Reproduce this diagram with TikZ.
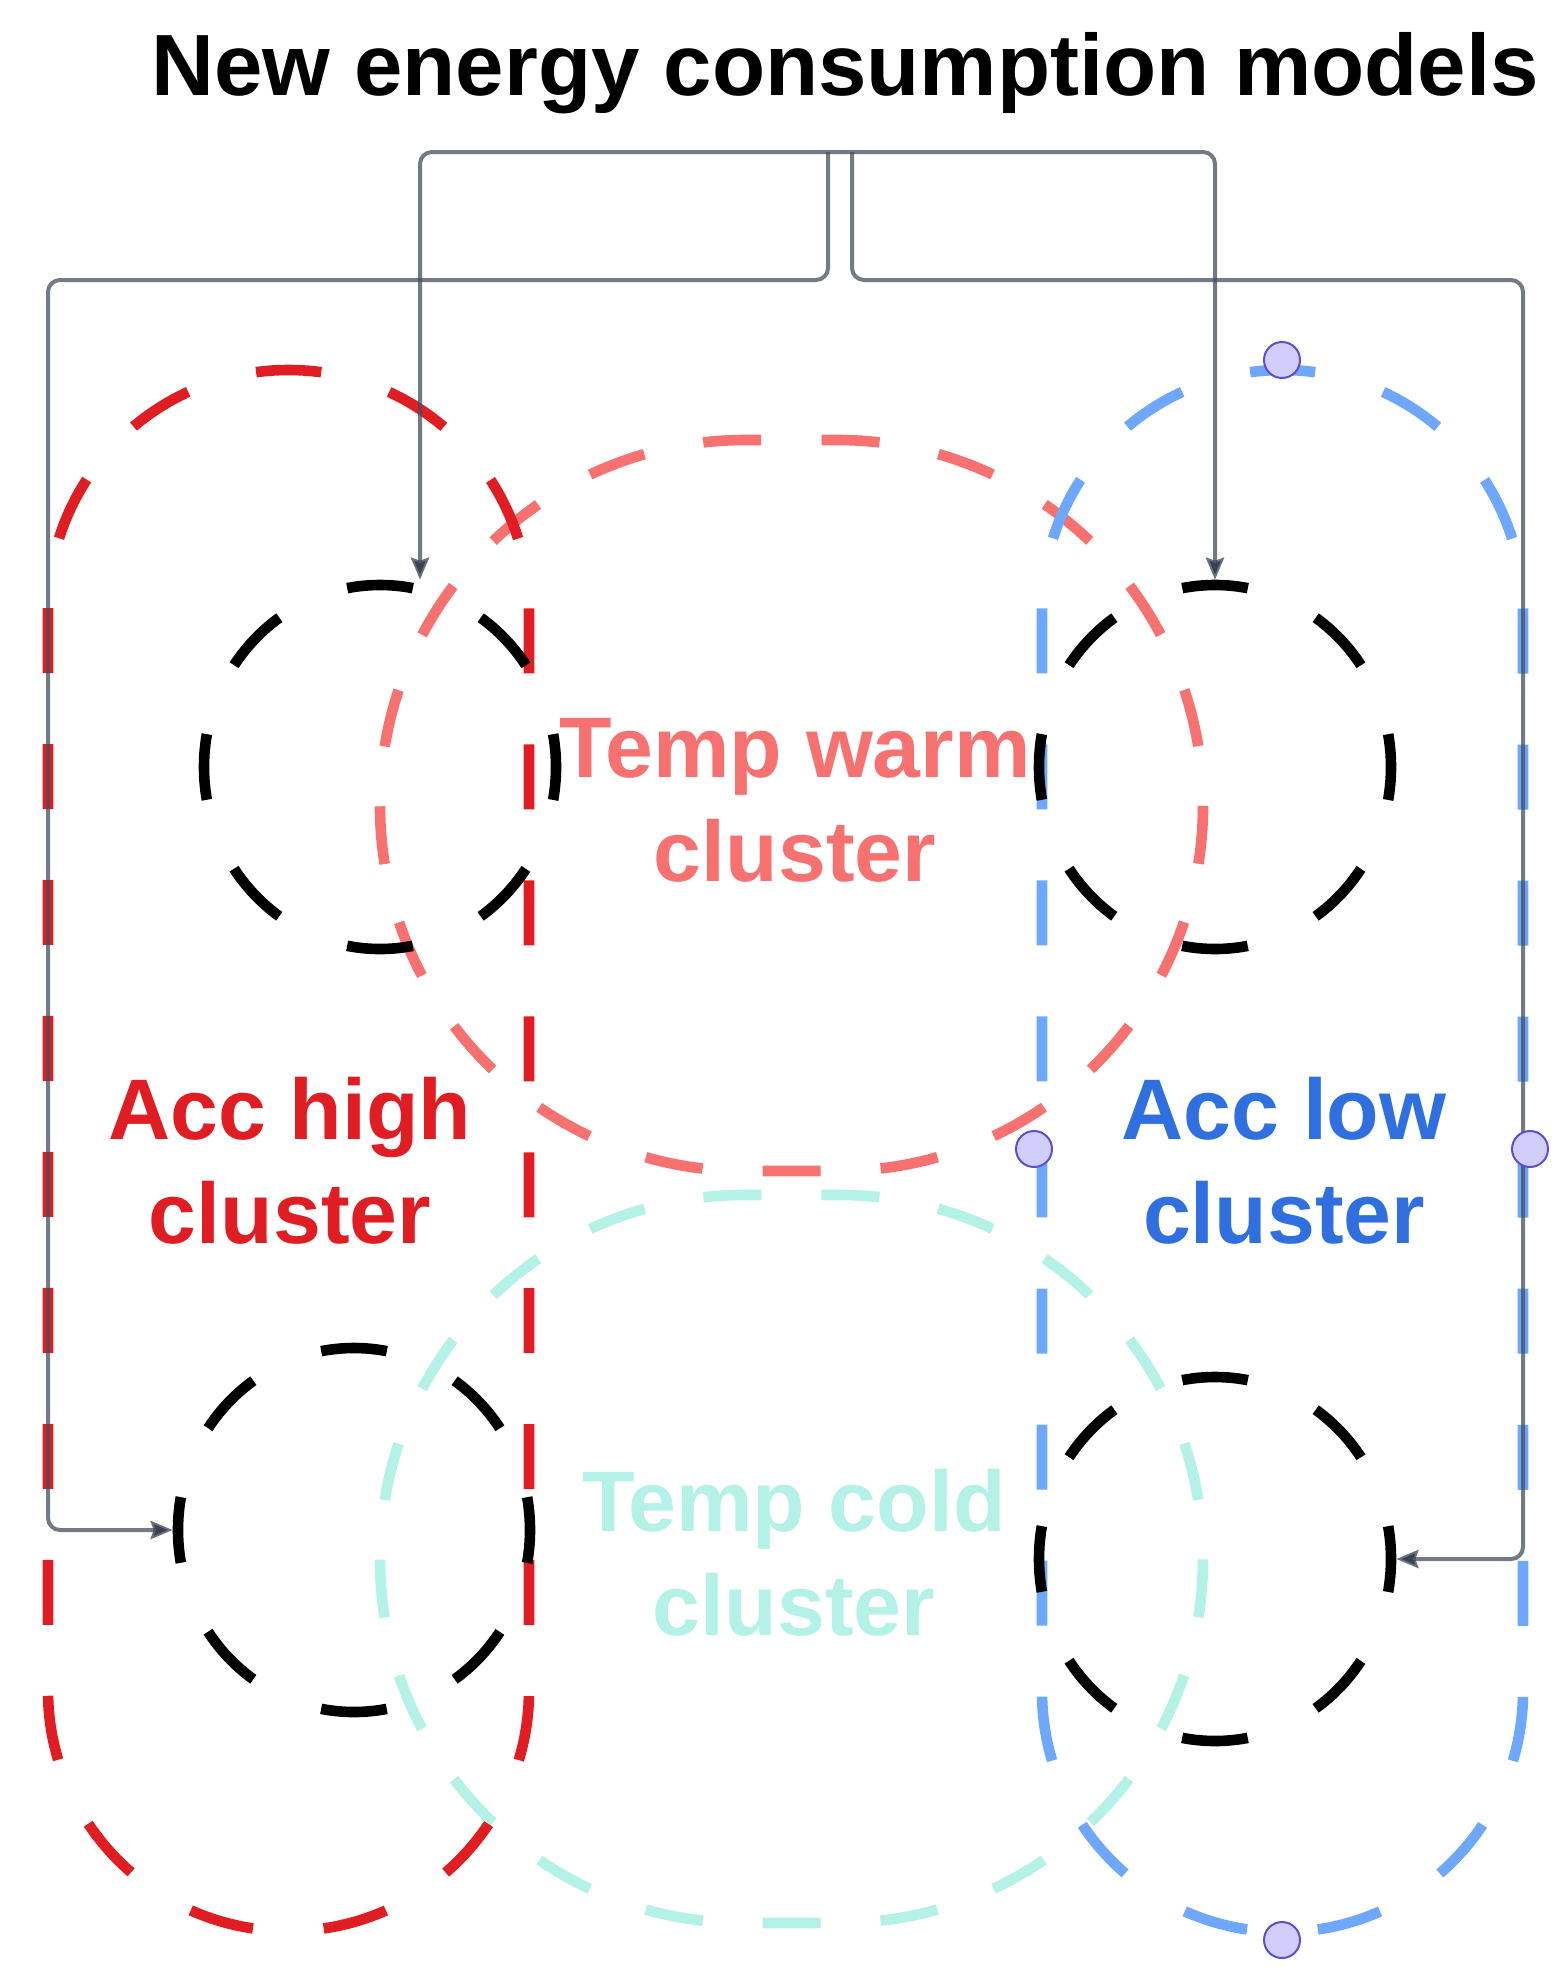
\documentclass[tikz,border=0pt]{standalone}
\usepackage{fontspec}
\setmainfont{Liberation Sans}
\usetikzlibrary{shapes.geometric,arrows.meta}
\definecolor{acchigh}{HTML}{E11D24}
\definecolor{acclow}{HTML}{6EA8FE}
\definecolor{acclowtext}{HTML}{2F6FE0}
\definecolor{warm}{HTML}{F87171}
\definecolor{cold}{HTML}{B4F1E6}
\definecolor{connc}{HTML}{454D5A}
\definecolor{arrc}{HTML}{3A4150}
\definecolor{handlefill}{HTML}{D2CEFC}
\definecolor{handledraw}{HTML}{5A4FD0}
\begin{document}
\begin{tikzpicture}[x=0.5pt,y=0.5pt,
  capsule/.style={line width=5.3pt},
  acchighstyle/.style={capsule, draw=acchigh, dash pattern=on 32.5pt off 35.48pt, dash phase=16.25pt},
  acclowstyle/.style={capsule, draw=acclow, dash pattern=on 32.5pt off 35.52pt, dash phase=16.25pt},
  warmstyle/.style={capsule, draw=warm, dash pattern=on 29pt off 30.06pt, dash phase=44.03pt},
  coldstyle/.style={capsule, draw=cold, dash pattern=on 29pt off 29.98pt, dash phase=44pt},
  blackc/.style={ellipse, draw=black, line width=5.3pt, minimum width=176pt, minimum height=182pt, inner sep=0pt, dash pattern=on 33pt off 37.3pt, dash phase=16.5pt},
  conn/.style={draw=connc, line width=2pt, draw opacity=0.75, rounded corners=6pt, -{Stealth[length=11pt,width=9pt,inset=1.5pt,color=arrc]}},
  handle/.style={circle, minimum size=18pt, inner sep=0pt, fill=handlefill, draw=handledraw, line width=1pt},
  lbl/.style={font=\bfseries\fontsize{43}{52}\selectfont, align=center, inner sep=0pt}
]
\useasboundingbox (0,0) rectangle (1564,-1986);

% Temp warm cluster (horizontal stadium)
\draw[warmstyle] (791.5,-440) -- (837.5,-440)
  arc[start angle=90, end angle=-90, radius=365.5] -- (745.5,-1171)
  arc[start angle=270, end angle=90, radius=365.5] -- cycle;
% Temp cold cluster
\draw[coldstyle] (791.5,-1195) -- (839,-1195)
  arc[start angle=90, end angle=-90, radius=364] -- (744,-1923)
  arc[start angle=270, end angle=90, radius=364] -- cycle;
% Acc high cluster (vertical stadium)
\draw[acchighstyle] (288.5,-370)
  arc[start angle=90, end angle=180, radius=240.5] -- (48,-1690.5)
  arc[start angle=180, end angle=360, radius=240.5] -- (529,-610.5)
  arc[start angle=0, end angle=90, radius=240.5] -- cycle;
% Acc low cluster
\draw[acclowstyle] (1282.5,-370)
  arc[start angle=90, end angle=180, radius=240.5] -- (1042,-1691.5)
  arc[start angle=180, end angle=360, radius=240.5] -- (1523,-610.5)
  arc[start angle=0, end angle=90, radius=240.5] -- cycle;

% black dashed circles
\node[blackc] (c1) at (380,-767) {};
\node[blackc] (c2) at (1215,-767) {};
\node[blackc] (c3) at (354,-1530) {};
\node[blackc] (c4) at (1215,-1559) {};

% title
\node[font=\bfseries\fontsize{43.5}{52}\selectfont, anchor=base, inner sep=0pt] (title) at (845,-95) {New energy consumption models};
\coordinate (src) at (840,-152);
\coordinate (srcL) at (828,-152);
\coordinate (srcR) at (852,-152);
\coordinate (lbend) at (48,-280);
\coordinate (rbend) at (1523,-280);

% connectors
\draw[conn] (src) -| ([xshift=20pt]c1.north);
\draw[conn] (src) -| (c2.north);
\draw[conn] (srcL) |- (lbend) |- (c3.west);
\draw[conn] (srcR) |- (rbend) |- (c4.east);

% labels
\node[lbl, text=acchigh] (lah) at (290,-1161) {Acc high\\cluster};
\node[lbl, text=acclowtext] (lal) at (1284,-1161) {Acc low\\cluster};
\node[lbl, text=warm] (ltw) at (795,-800) {Temp warm\\cluster};
\node[lbl, text=cold] (ltc) at (794,-1553) {Temp cold\\cluster};

% selection handles
\node[handle] (h1) at (1282,-360) {};
\node[handle] (h2) at (1282,-1940) {};
\node[handle] (h3) at (1034,-1149) {};
\node[handle] (h4) at (1530,-1149) {};
\end{tikzpicture}
\end{document}
